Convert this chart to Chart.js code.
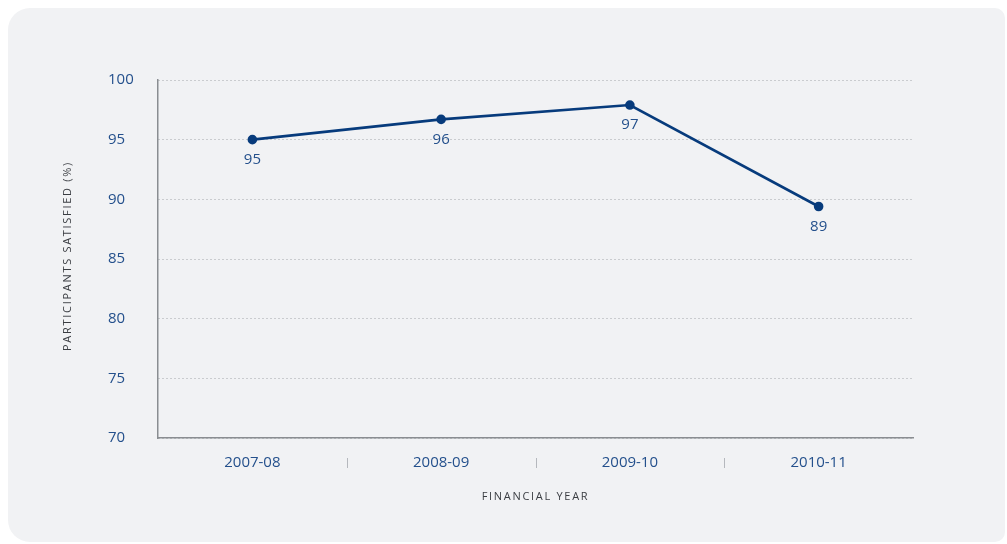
<!DOCTYPE html>
<html>
<head>
<meta charset="utf-8">
<script src="https://cdn.jsdelivr.net/npm/chart.js@4"></script>
<style>
  html, body { margin: 0; padding: 0; background: #ffffff; }
  body { width: 1007px; height: 544px; position: relative; overflow: hidden; }
  .card {
    position: absolute; left: 8px; top: 8px; width: 997px; height: 534px;
    background: #f1f2f4; border-radius: 22px 10px 10px 22px;
  }
  #wrap { position: absolute; left: 0; top: 0; width: 1007px; height: 544px; }
</style>
</head>
<body>
<div class="card"></div>
<div id="wrap"><canvas id="myLineChart" width="1007" height="544"></canvas></div>
<script>

const years = ['2007-08', '2008-09', '2009-10', '2010-11'];
const satisfied = [95.0, 96.7, 97.9, 89.4];
const pointLabels = ['95', '96', '97', '89'];
const yTicks = [70, 75, 80, 85, 90, 95, 100];

const yTitle = 'PARTICIPANTS SATISFIED (%)';
const xTitle = 'FINANCIAL YEAR';

const navy = '#073b7c';
const tickBlue = '#24508c';
const font = "'Open Sans', 'Noto Sans', sans-serif";

// value labels under each point, separators between years, axis titles
const extras = {
  id: 'extras',
  afterDatasetsDraw(chart) {
    const ctx = chart.ctx;
    const meta = chart.getDatasetMeta(0);
    const xs = chart.scales.x;
    const area = chart.chartArea;

    ctx.save();
    ctx.font = '15px ' + font;
    ctx.fillStyle = tickBlue;
    ctx.textAlign = 'center';
    ctx.textBaseline = 'middle';
    meta.data.forEach((pt, i) => {
      ctx.fillText(pointLabels[i], pt.x, pt.y + 20);
    });

    ctx.strokeStyle = '#b5b8bd';
    ctx.lineWidth = 1;
    for (let i = 0; i < years.length - 1; i++) {
      const x = Math.round((xs.getPixelForValue(i) + xs.getPixelForValue(i + 1)) / 2) + 0.5;
      ctx.beginPath();
      ctx.moveTo(x, area.bottom + 20);
      ctx.lineTo(x, area.bottom + 30);
      ctx.stroke();
    }

    ctx.fillStyle = '#3a3d42';
    ctx.font = '11px ' + font;
    ctx.letterSpacing = '1.7px';
    ctx.fillText(xTitle, (area.left + area.right) / 2, area.bottom + 59);

    ctx.translate(68, (area.top + area.bottom) / 2 - 3);
    ctx.rotate(-Math.PI / 2);
    ctx.fillText(yTitle, 0, 0);
    ctx.restore();
  }
};

function renderLineChart() {
  const ctx = document.getElementById('myLineChart').getContext('2d');
  new Chart(ctx, {
    type: 'line',
    data: {
      labels: years,
      datasets: [{
        data: satisfied,
        borderColor: navy,
        backgroundColor: navy,
        borderWidth: 2.6,
        pointRadius: 3.5,
        pointHoverRadius: 3.5,
        tension: 0
      }]
    },
    options: {
      responsive: false,
      animation: false,
      layout: { padding: { left: 108, top: 80, right: 94, bottom: 0 } },
      plugins: { legend: { display: false }, tooltip: { enabled: false } },
      scales: {
        x: {
          offset: true,
          afterFit: s => { s.height = 106; },
          grid: { display: false, drawTicks: false },
          border: { display: true, color: '#8a8d91', width: 1.5 },
          ticks: { color: tickBlue, font: { family: font, size: 15 }, padding: 16 }
        },
        y: {
          min: 70,
          max: 100,
          afterFit: s => { s.width = 50; },
          afterBuildTicks: s => { s.ticks = yTicks.map(v => ({ value: v })); },
          grid: { color: '#a3a6aa', drawTicks: false, lineWidth: 1 },
          border: { display: true, color: '#8a8d91', width: 1.5, dash: [1, 3] },
          ticks: { color: tickBlue, font: { family: font, size: 15 }, crossAlign: 'far', padding: 0 }
        }
      }
    },
    plugins: [extras]
  });
}

renderLineChart();
</script>
</body>
</html>
